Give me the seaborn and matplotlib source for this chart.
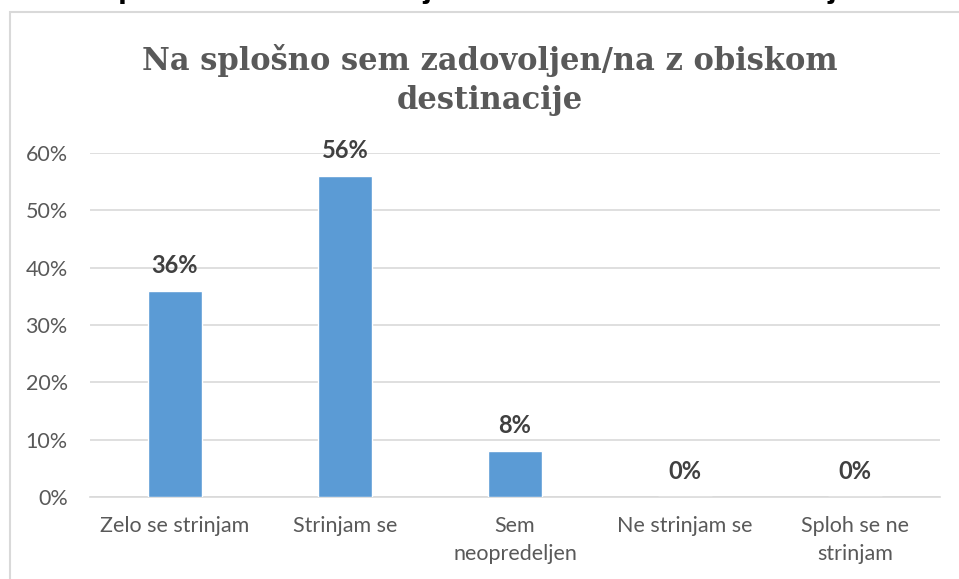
import matplotlib
matplotlib.use("Agg")
import matplotlib.pyplot as plt
import matplotlib.patches as mpatches
from matplotlib.ticker import PercentFormatter
import seaborn as sns
import pandas as pd

# Chart data
categories = ["Zelo se strinjam", "Strinjam se", "Sem\nneopredeljen",
              "Ne strinjam se", "Sploh se ne\nstrinjam"]
shares = [0.36, 0.56, 0.08, 0.0, 0.0]
y_ticks = [0.0, 0.1, 0.2, 0.3, 0.4, 0.5, 0.6]

title = "Na splošno sem zadovoljen/na z obiskom\ndestinacije"
doc_heading = "5. Na splošno sem zadovoljen/na z obiskom destinacije"

df = pd.DataFrame({"odgovor": categories, "delez": shares})

sns.set_theme(style="white")
plt.rcParams['font.family'] = ['Lato', 'DejaVu Sans']

fig = plt.figure(figsize=(9.59, 5.79), dpi=100)
ax = fig.add_axes([90 / 959, 82 / 579, 850 / 959, 344 / 579])

# chart frame (light grey border like in the document)
frame = mpatches.Rectangle((10 / 959, -0.1), 1.2, 1.1 - 12 / 579,
                           transform=fig.transFigure, fill=False,
                           edgecolor="#D9D9D9", linewidth=1.5, zorder=0)
fig.patches.append(frame)

# cut-off heading of the document above the chart
fig.text(15 / 959, 1 + 3 / 579, doc_heading, ha="left", va="baseline",
         fontsize=23, fontweight="bold", color="black",
         family=["Liberation Sans", "DejaVu Sans"])

sns.barplot(data=df, x="odgovor", y="delez", color="#5B9BD5",
            width=0.32, saturation=1, ax=ax, zorder=3)

for cont in ax.containers:
    ax.bar_label(cont, labels=[f"{v:.0%}" for v in shares], padding=10,
                 fontsize=17, fontweight="bold", color="#404040")

ax.set_ylim(0, 0.6)
ax.set_yticks(y_ticks)
ax.yaxis.set_major_formatter(PercentFormatter(1.0, decimals=0))
ax.grid(axis="y", color="#D9D9D9", linewidth=1.2, zorder=0)
ax.set_axisbelow(True)
for side in ["left", "right", "top"]:
    ax.spines[side].set_visible(False)
ax.spines["bottom"].set_color("#D9D9D9")
ax.spines["bottom"].set_linewidth(1.2)
ax.tick_params(axis="both", length=0, labelsize=15.5, colors="#595959")
ax.tick_params(axis="x", pad=14)
ax.tick_params(axis="y", pad=16)
for lbl in ax.get_xticklabels():
    lbl.set_linespacing(1.45)
ax.set_xlabel("")
ax.set_ylabel("")
ax.set_xlim(-0.5, 4.5)

fig.text(490 / 959, 1 - 80 / 579, title, ha="center", va="center",
         fontsize=22, fontweight="bold", color="#595959", linespacing=1.35,
         family=["DejaVu Serif", "Liberation Serif"])

fig.savefig("out.png", dpi=100)
